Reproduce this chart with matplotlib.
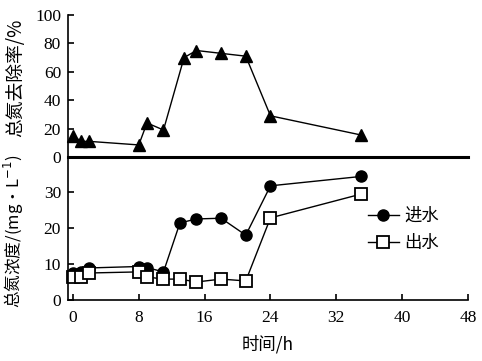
import matplotlib
matplotlib.use("Agg")
import matplotlib.pyplot as plt

plt.rcParams['font.family'] = ['Liberation Serif', 'Noto Sans CJK SC', 'DejaVu Sans']

# Data
t_removal = [0, 1, 2, 8, 9, 11, 13.5, 15, 18, 21, 24, 35]
removal = [15, 11, 11, 8.5, 24, 19, 70, 75, 73, 71, 29, 15.5]

t_conc = [0, 1, 2, 8, 9, 11, 13, 15, 18, 21, 24, 35]
influent = [7.5, 7.8, 8.9, 9.3, 9.0, 7.8, 21.4, 22.5, 22.7, 18.0, 31.7, 34.3]
effluent = [6.4, 6.4, 7.5, 7.8, 6.4, 5.8, 5.8, 5.0, 5.8, 5.3, 22.8, 29.4]

xticks = [0, 8, 16, 24, 32, 40, 48]
top_yticks = [0, 20, 40, 60, 80, 100]
bot_yticks = [0, 10, 20, 30]

W, H = 482, 361
fig = plt.figure(figsize=(W / 100, H / 100), dpi=100)

left = 68 / W
width = 400 / W
ax_top = fig.add_axes([left, (H - 157) / H, width, 142 / H])
ax_bot = fig.add_axes([left, (H - 300) / H, width, 143 / H])

xlim = (-0.6, 48)
for ax in (ax_top, ax_bot):
    ax.set_xlim(*xlim)
    ax.spines['top'].set_visible(False)
    ax.spines['right'].set_visible(False)
    ax.spines['left'].set_linewidth(1.2)
    ax.tick_params(direction='in', length=4, width=1.2, labelsize=12.5, pad=5)
    ax.patch.set_alpha(0)

# Top: removal
ax_top.set_ylim(0, 100)
ax_top.set_yticks(top_yticks)
ax_top.set_xticks([])
ax_top.spines['bottom'].set_linewidth(2.2)
ax_top.plot(t_removal, removal, color='black', lw=1, marker='^', ms=9,
            mfc='black', mec='black', clip_on=False)
ax_top.set_ylabel('总氮去除率/%', family=['Noto Sans CJK SC'], fontsize=13.5)
ax_top.yaxis.set_label_coords(-0.105, 0.56)

# Bottom: concentrations
ax_bot.set_ylim(0, 39.7)
ax_bot.set_yticks(bot_yticks)
ax_bot.set_xticks(xticks)
ax_bot.spines['bottom'].set_linewidth(1.2)
ax_bot.plot(t_conc, influent, color='black', lw=1, marker='o', ms=8,
            mfc='black', mec='black', label='进水', clip_on=False)
ax_bot.plot(t_conc, effluent, color='black', lw=1, marker='s', ms=8,
            mfc='white', mec='black', mew=1.3, label='出水', clip_on=False)
ax_bot.set_ylabel('总氮浓度/(mg·L$^{-1}$)', family=['Noto Sans CJK SC', 'DejaVu Sans'],
                  fontsize=12)
ax_bot.yaxis.set_label_coords(-0.105, 0.48)
ax_bot.set_xlabel('时间/h', family=['Noto Sans CJK SC'], fontsize=12.5, labelpad=7)
ax_bot.tick_params(axis='x', pad=7)

leg = ax_bot.legend(loc='upper left', bbox_to_anchor=(0.71, 0.76), frameon=False,
                    prop={'family': 'Noto Sans CJK SC', 'size': 12.5},
                    handlelength=1.8, handletextpad=0.3, labelspacing=0.5)

fig.savefig('out.png', dpi=100)
